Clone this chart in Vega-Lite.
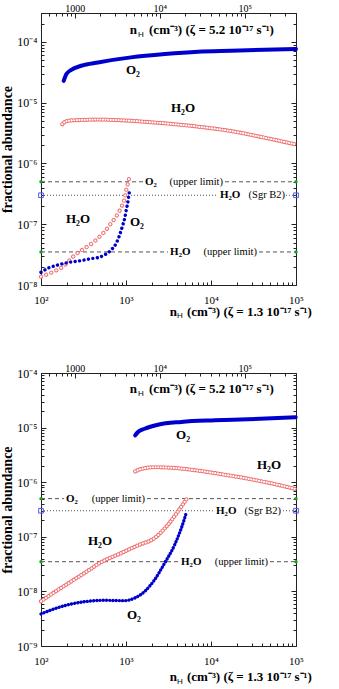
{
  "$schema": "https://vega.github.io/schema/vega-lite/v6.json",
  "padding": {"left": 0, "top": 0, "right": 0, "bottom": 0},
  "background": "white",
  "spacing": 39,
  "config": {
    "view": {"stroke": "#222", "strokeWidth": 1},
    "font": "Liberation Serif",
    "axis": {"domain": false, "grid": false, "tickColor": "#222", "tickWidth": 1, "labelColor": "#000", "labelFont": "Liberation Serif", "labelFlush": false, "labelOverlap": false, "labelBound": false, "titleColor": "#000"}
  },
  "datasets": {
    "topax": [{"xt": 400}, {"xt": 400000}],
    "p1_o2_up": [{"x":185,"y":2.29e-5},{"x":199,"y":2.96e-5},{"x":227,"y":3.48e-5},{"x":298,"y":4.06e-5},{"x":469,"y":4.61e-5},{"x":1145,"y":5.58e-5},{"x":2877,"y":6.34e-5},{"x":7030,"y":6.92e-5},{"x":17180,"y":7.18e-5},{"x":100000,"y":7.66e-5}],
    "p1_h2o_up": [{"x":178,"y":4.42e-6},{"x":190,"y":4.82e-6},{"x":218,"y":5.08e-6},{"x":298,"y":5.2e-6},{"x":469,"y":5.28e-6},{"x":881,"y":5.14e-6},{"x":1815,"y":4.82e-6},{"x":2851,"y":4.58e-6},{"x":7030,"y":4.04e-6},{"x":17180,"y":3.42e-6},{"x":42850,"y":2.66e-6},{"x":99000,"y":2.06e-6}],
    "p1_o2_low": [{"x":100,"y":1.62e-8},{"x":121,"y":1.89e-8},{"x":158,"y":2.14e-8},{"x":208,"y":2.34e-8},{"x":298,"y":2.52e-8},{"x":391,"y":2.72e-8},{"x":469,"y":2.83e-8},{"x":561,"y":3.13e-8},{"x":671,"y":3.79e-8},{"x":769,"y":4.89e-8},{"x":843,"y":6.7e-8},{"x":906,"y":9.2e-8},{"x":966,"y":1.26e-7},{"x":1009,"y":1.74e-7},{"x":1056,"y":2.38e-7},{"x":1084,"y":3.08e-7},{"x":1104,"y":3.62e-7}],
    "p1_h2o_low": [{"x":100,"y":1.37e-8},{"x":111,"y":1.45e-8},{"x":132,"y":1.6e-8},{"x":158,"y":1.8e-8},{"x":190,"y":2.1e-8},{"x":213,"y":2.5e-8},{"x":249,"y":3.1e-8},{"x":290,"y":3.6e-8},{"x":326,"y":4.0e-8},{"x":409,"y":5.0e-8},{"x":469,"y":5.91e-8},{"x":561,"y":7.6e-8},{"x":671,"y":1.05e-7},{"x":769,"y":1.35e-7},{"x":881,"y":1.92e-7},{"x":966,"y":2.71e-7},{"x":1009,"y":3.72e-7},{"x":1056,"y":4.8e-7},{"x":1084,"y":5.58e-7},{"x":1104,"y":6.57e-7}],
    "p2_o2_up": [{"x":1285,"y":7.23e-6},{"x":1384,"y":8.3e-6},{"x":1660,"y":9.54e-6},{"x":2377,"y":1.13e-5},{"x":4480,"y":1.27e-5},{"x":11070,"y":1.36e-5},{"x":27230,"y":1.42e-5},{"x":99200,"y":1.55e-5}],
    "p2_h2o_up": [{"x":1285,"y":1.58e-6},{"x":1514,"y":1.75e-6},{"x":2178,"y":1.88e-6},{"x":3741,"y":1.82e-6},{"x":7030,"y":1.63e-6},{"x":14490,"y":1.37e-6},{"x":27230,"y":1.16e-6},{"x":51170,"y":9.54e-7},{"x":99200,"y":7.5e-7}],
    "p2_h2o_low": [{"x":100,"y":6.6e-9},{"x":145,"y":9.75e-9},{"x":228,"y":1.53e-8},{"x":357,"y":2.39e-8},{"x":490,"y":3.31e-8},{"x":881,"y":5.05e-8},{"x":1384,"y":6.98e-8},{"x":2173,"y":9.51e-8},{"x":3119,"y":1.67e-7},{"x":4090,"y":2.93e-7},{"x":5260,"y":5.14e-7}],
    "p2_o2_low": [{"x":100,"y":3.86e-9},{"x":145,"y":4.82e-9},{"x":228,"y":5.88e-9},{"x":357,"y":6.59e-9},{"x":561,"y":6.87e-9},{"x":966,"y":6.76e-9},{"x":1265,"y":7.57e-9},{"x":1660,"y":1.0e-8},{"x":2173,"y":1.64e-8},{"x":2851,"y":3.31e-8},{"x":3741,"y":7.16e-8},{"x":4480,"y":1.45e-7},{"x":4900,"y":2.21e-7},{"x":5130,"y":2.81e-7}],
    "p1_rules": [{"x":100,"x2":1585,"y":5e-7,"k":"d"},{"x":14620,"x2":100000,"y":5e-7,"k":"d"},{"x":100,"x2":12080,"y":3e-7,"k":"o"},{"x":76200,"x2":100000,"y":3e-7,"k":"o"},{"x":100,"x2":3120,"y":3.5e-8,"k":"d"},{"x":36700,"x2":100000,"y":3.5e-8,"k":"d"}],
    "p2_rules": [{"x":100,"x2":186,"y":5e-7,"k":"d"},{"x":1766,"x2":100000,"y":5e-7,"k":"d"},{"x":100,"x2":10840,"y":3e-7,"k":"o"},{"x":70300,"x2":100000,"y":3e-7,"k":"o"},{"x":100,"x2":4210,"y":3.5e-8,"k":"d"},{"x":49400,"x2":100000,"y":3.5e-8,"k":"d"}],
    "ends": [{"x":100,"y":5e-7,"k":"g"},{"x":100000,"y":5e-7,"k":"g"},{"x":100,"y":3.5e-8,"k":"g"},{"x":100000,"y":3.5e-8,"k":"g"},{"x":100,"y":3e-7,"k":"b"},{"x":100000,"y":3e-7,"k":"b"}],
    "p1_sp": [{"x":1208,"y":3.44e-5,"t":"O₂"},{"x":4690,"y":8.1e-6,"t":"H₂O"},{"x":272,"y":1.23e-7,"t":"H₂O"},{"x":1346,"y":1.1e-7,"t":"O₂"}],
    "p2_sp": [{"x":4690,"y":7.3e-6,"t":"O₂"},{"x":48080,"y":2.07e-6,"t":"H₂O"},{"x":494,"y":8.4e-8,"t":"H₂O"},{"x":1242,"y":3.7e-9,"t":"O₂"}],
    "p1_ll": [{"x":1675,"y":5e-7,"t":"O₂","p":"s"},{"x":12760,"y":3e-7,"t":"H₂O","p":"s"},{"x":3300,"y":3.5e-8,"t":"H₂O","p":"s"},{"x":13840,"y":5e-7,"t":"(upper  limit)","p":"d"},{"x":74300,"y":3e-7,"t":"(Sgr  B2)","p":"d"},{"x":34750,"y":3.5e-8,"t":"(upper  limit)","p":"d"}],
    "p2_ll": [{"x":197,"y":5e-7,"t":"O₂","p":"s"},{"x":11460,"y":3e-7,"t":"H₂O","p":"s"},{"x":4440,"y":3.5e-8,"t":"H₂O","p":"s"},{"x":1675,"y":5e-7,"t":"(upper  limit)","p":"d"},{"x":66630,"y":3e-7,"t":"(Sgr  B2)","p":"d"},{"x":46900,"y":3.5e-8,"t":"(upper  limit)","p":"d"}],
    "p1_tt": [{"x":1107,"y":1.35e-4,"t":"n","p":"n"},{"x":1384,"y":1.21e-4,"t":"H","p":"h"},{"x":1866,"y":1.35e-4,"t":"(cm⁻³)  (ζ  =  5.2  10⁻¹⁷  s⁻¹)","p":"r"},{"x":3266,"y":3.07e-9,"t":"n","p":"n"},{"x":3981,"y":2.85e-9,"t":"H","p":"h"},{"x":5220,"y":3.07e-9,"t":"(cm⁻³)  (ζ  =  1.3  10⁻¹⁷  s⁻¹)","p":"r"}],
    "p2_tt": [{"x":1107,"y":4.3e-5,"t":"n","p":"n"},{"x":1384,"y":3.79e-5,"t":"H","p":"h"},{"x":1866,"y":4.3e-5,"t":"(cm⁻³)  (ζ  =  5.2  10⁻¹⁷  s⁻¹)","p":"r"},{"x":3266,"y":2.29e-10,"t":"n","p":"n"},{"x":3981,"y":2.01e-10,"t":"H","p":"h"},{"x":5220,"y":2.29e-10,"t":"(cm⁻³)  (ζ  =  1.3  10⁻¹⁷  s⁻¹)","p":"r"}]
  },
  "vconcat": [
    {
      "width": 255, "height": 272,
      "resolve": {"scale": {"x": "independent"}, "axis": {"x": "independent", "y": "independent"}},
      "layer": [
        {
          "encoding": {
            "x": {"field": "x", "type": "quantitative", "scale": {"type": "log", "domain": [100, 100000], "nice": false},
              "axis": {"orient": "bottom", "title": null, "values": [100,200,300,400,500,600,700,800,900,1000,2000,3000,4000,5000,6000,7000,8000,9000,10000,20000,30000,40000,50000,60000,70000,80000,90000,100000],
                "labelExpr": "abs(log(datum.value)/LN10 - round(log(datum.value)/LN10)) < 0.01 ? '10' + (datum.value < 1 ? '⁻' : '') + ['⁰','¹','²','³','⁴','⁵','⁶','⁷','⁸','⁹'][abs(round(log(datum.value)/LN10))] : ''",
                "tickSize": {"condition": {"test": "abs(log(datum.value)/LN10 - round(log(datum.value)/LN10)) < 0.01", "value": -5}, "value": -3},
                "labelFontSize": 11, "labelPadding": 14}},
            "y": {"field": "y", "type": "quantitative", "scale": {"type": "log", "domain": [1e-8, 3e-4], "nice": false},
              "axis": {"orient": "left", "title": "fractional abundance", "titleFontSize": 14, "titleFontWeight": "bold", "titleFont": "Liberation Serif", "titlePadding": 2,
                "values": [1e-8,2e-8,3e-8,4e-8,5e-8,6e-8,7e-8,8e-8,9e-8,1e-7,2e-7,3e-7,4e-7,5e-7,6e-7,7e-7,8e-7,9e-7,1e-6,2e-6,3e-6,4e-6,5e-6,6e-6,7e-6,8e-6,9e-6,1e-5,2e-5,3e-5,4e-5,5e-5,6e-5,7e-5,8e-5,9e-5,1e-4,2e-4,3e-4],
                "labelExpr": "abs(log(datum.value)/LN10 - round(log(datum.value)/LN10)) < 0.01 ? '10' + (datum.value < 1 ? '⁻' : '') + ['⁰','¹','²','³','⁴','⁵','⁶','⁷','⁸','⁹'][abs(round(log(datum.value)/LN10))] : ''",
                "tickSize": {"condition": {"test": "abs(log(datum.value)/LN10 - round(log(datum.value)/LN10)) < 0.01", "value": -5}, "value": -3},
                "labelFontSize": 12, "labelPadding": 9}}
          },
          "layer": [
            {"data": {"name": "p1_rules"}, "transform": [{"filter": "datum.k == 'd'"}], "mark": {"type": "rule", "color": "#555", "strokeDash": [4, 3], "strokeWidth": 1}, "encoding": {"x2": {"field": "x2"}}},
            {"data": {"name": "p1_rules"}, "transform": [{"filter": "datum.k == 'o'"}], "mark": {"type": "rule", "color": "#555", "strokeDash": [1, 2], "strokeWidth": 1}, "encoding": {"x2": {"field": "x2"}}},
            {"data": {"name": "p1_h2o_up"}, "mark": {"type": "line", "color": "#ee6f6f", "strokeWidth": 4.2, "strokeDash": [0.01, 2.6], "strokeCap": "round", "interpolate": "monotone"}},
            {"data": {"name": "p1_h2o_up"}, "mark": {"type": "line", "color": "white", "strokeWidth": 2.2, "strokeDash": [0.01, 2.6], "strokeCap": "round", "interpolate": "monotone"}},
            {"data": {"name": "p1_h2o_low"}, "mark": {"type": "line", "color": "#ee6f6f", "strokeWidth": 4.2, "strokeDash": [0.01, 5.5], "strokeCap": "round", "interpolate": "monotone"}},
            {"data": {"name": "p1_h2o_low"}, "mark": {"type": "line", "color": "white", "strokeWidth": 2.2, "strokeDash": [0.01, 5.5], "strokeCap": "round", "interpolate": "monotone"}},
            {"data": {"name": "p1_o2_up"}, "mark": {"type": "line", "color": "#0000cc", "strokeWidth": 4, "strokeCap": "round", "interpolate": "monotone"}},
            {"data": {"name": "p1_o2_low"}, "mark": {"type": "line", "color": "#0000cc", "strokeWidth": 3.4, "strokeDash": [0.01, 4.5], "strokeCap": "round", "interpolate": "monotone"}},
            {"data": {"name": "p1_sp"}, "mark": {"type": "text", "font": "Liberation Serif", "fontWeight": "bold", "fontSize": 13, "align": "center", "baseline": "middle", "color": "#000"}, "encoding": {"text": {"field": "t"}}},
            {"data": {"name": "p1_ll"}, "transform": [{"filter": "datum.p == 's'"}], "mark": {"type": "text", "font": "Liberation Serif", "fontWeight": "bold", "fontSize": 11, "align": "left", "baseline": "middle", "color": "#000"}, "encoding": {"text": {"field": "t"}}},
            {"data": {"name": "p1_ll"}, "transform": [{"filter": "datum.p == 'd'"}], "mark": {"type": "text", "font": "Liberation Serif", "fontSize": 10.5, "align": "right", "baseline": "middle", "color": "#000"}, "encoding": {"text": {"field": "t"}}},
            {"data": {"name": "p1_tt"}, "transform": [{"filter": "datum.p == 'n'"}], "mark": {"type": "text", "font": "Liberation Serif", "fontWeight": "bold", "fontSize": 13, "align": "left", "baseline": "alphabetic", "color": "#000"}, "encoding": {"text": {"field": "t"}}},
            {"data": {"name": "p1_tt"}, "transform": [{"filter": "datum.p == 'h'"}], "mark": {"type": "text", "font": "Liberation Sans", "fontSize": 8, "align": "left", "baseline": "alphabetic", "color": "#000"}, "encoding": {"text": {"field": "t"}}},
            {"data": {"name": "p1_tt"}, "transform": [{"filter": "datum.p == 'r'"}], "mark": {"type": "text", "font": "Liberation Serif", "fontWeight": "bold", "fontSize": 13, "align": "left", "baseline": "alphabetic", "color": "#000"}, "encoding": {"text": {"field": "t"}}},
            {"data": {"name": "ends"}, "transform": [{"filter": "datum.k == 'g'"}], "mark": {"type": "point", "shape": "circle", "filled": true, "color": "#1a9e1a", "size": 12, "opacity": 1}},
            {"data": {"name": "ends"}, "transform": [{"filter": "datum.k == 'b'"}], "mark": {"type": "point", "shape": "square", "filled": false, "color": "#5555ee", "size": 22, "strokeWidth": 1, "opacity": 1}}
          ]
        },
        {
          "data": {"name": "topax"},
          "mark": {"type": "point", "opacity": 0},
          "encoding": {
            "x": {"field": "xt", "type": "quantitative", "scale": {"type": "log", "domain": [400, 400000], "nice": false},
              "axis": {"orient": "top", "title": null, "values": [400,500,600,700,800,900,1000,2000,3000,4000,5000,6000,7000,8000,9000,10000,20000,30000,40000,50000,60000,70000,80000,90000,100000,200000,300000,400000],
                "labelExpr": "datum.value == 1000 ? '1000' : datum.value == 10000 ? '10⁴' : datum.value == 100000 ? '10⁵' : ''",
                "tickSize": {"condition": {"test": "abs(log(datum.value)/LN10 - round(log(datum.value)/LN10)) < 0.01", "value": -5}, "value": -3},
                "labelFontSize": 10, "labelPadding": 5}}
          }
        },
        {
          "data": {"name": "topax"},
          "mark": {"type": "point", "opacity": 0},
          "encoding": {
            "y": {"field": "yr", "type": "quantitative", "scale": {"type": "log", "domain": [1e-8, 3e-4], "nice": false},
              "axis": {"orient": "right", "title": null, "labels": false,
                "values": [1e-8,2e-8,3e-8,4e-8,5e-8,6e-8,7e-8,8e-8,9e-8,1e-7,2e-7,3e-7,4e-7,5e-7,6e-7,7e-7,8e-7,9e-7,1e-6,2e-6,3e-6,4e-6,5e-6,6e-6,7e-6,8e-6,9e-6,1e-5,2e-5,3e-5,4e-5,5e-5,6e-5,7e-5,8e-5,9e-5,1e-4,2e-4,3e-4],
                "tickSize": {"condition": {"test": "abs(log(datum.value)/LN10 - round(log(datum.value)/LN10)) < 0.01", "value": -5}, "value": -3}}}
          }
        }
      ]
    },
    {
      "width": 255, "height": 273,
      "resolve": {"scale": {"x": "independent"}, "axis": {"x": "independent", "y": "independent"}},
      "layer": [
        {
          "encoding": {
            "x": {"field": "x", "type": "quantitative", "scale": {"type": "log", "domain": [100, 100000], "nice": false},
              "axis": {"orient": "bottom", "title": null, "values": [100,200,300,400,500,600,700,800,900,1000,2000,3000,4000,5000,6000,7000,8000,9000,10000,20000,30000,40000,50000,60000,70000,80000,90000,100000],
                "labelExpr": "abs(log(datum.value)/LN10 - round(log(datum.value)/LN10)) < 0.01 ? '10' + (datum.value < 1 ? '⁻' : '') + ['⁰','¹','²','³','⁴','⁵','⁶','⁷','⁸','⁹'][abs(round(log(datum.value)/LN10))] : ''",
                "tickSize": {"condition": {"test": "abs(log(datum.value)/LN10 - round(log(datum.value)/LN10)) < 0.01", "value": -5}, "value": -3},
                "labelFontSize": 11, "labelPadding": 14}},
            "y": {"field": "y", "type": "quantitative", "scale": {"type": "log", "domain": [1e-9, 1e-4], "nice": false},
              "axis": {"orient": "left", "title": "fractional abundance", "titleFontSize": 14, "titleFontWeight": "bold", "titleFont": "Liberation Serif", "titlePadding": 2,
                "values": [1e-9,2e-9,3e-9,4e-9,5e-9,6e-9,7e-9,8e-9,9e-9,1e-8,2e-8,3e-8,4e-8,5e-8,6e-8,7e-8,8e-8,9e-8,1e-7,2e-7,3e-7,4e-7,5e-7,6e-7,7e-7,8e-7,9e-7,1e-6,2e-6,3e-6,4e-6,5e-6,6e-6,7e-6,8e-6,9e-6,1e-5,2e-5,3e-5,4e-5,5e-5,6e-5,7e-5,8e-5,9e-5,1e-4],
                "labelExpr": "abs(log(datum.value)/LN10 - round(log(datum.value)/LN10)) < 0.01 ? '10' + (datum.value < 1 ? '⁻' : '') + ['⁰','¹','²','³','⁴','⁵','⁶','⁷','⁸','⁹'][abs(round(log(datum.value)/LN10))] : ''",
                "tickSize": {"condition": {"test": "abs(log(datum.value)/LN10 - round(log(datum.value)/LN10)) < 0.01", "value": -5}, "value": -3},
                "labelFontSize": 12, "labelPadding": 9}}
          },
          "layer": [
            {"data": {"name": "p2_rules"}, "transform": [{"filter": "datum.k == 'd'"}], "mark": {"type": "rule", "color": "#555", "strokeDash": [4, 3], "strokeWidth": 1}, "encoding": {"x2": {"field": "x2"}}},
            {"data": {"name": "p2_rules"}, "transform": [{"filter": "datum.k == 'o'"}], "mark": {"type": "rule", "color": "#555", "strokeDash": [1, 2], "strokeWidth": 1}, "encoding": {"x2": {"field": "x2"}}},
            {"data": {"name": "p2_h2o_up"}, "mark": {"type": "line", "color": "#ee6f6f", "strokeWidth": 4.2, "strokeDash": [0.01, 2.6], "strokeCap": "round", "interpolate": "monotone"}},
            {"data": {"name": "p2_h2o_up"}, "mark": {"type": "line", "color": "white", "strokeWidth": 2.2, "strokeDash": [0.01, 2.6], "strokeCap": "round", "interpolate": "monotone"}},
            {"data": {"name": "p2_h2o_low"}, "mark": {"type": "line", "color": "#ee6f6f", "strokeWidth": 4.2, "strokeDash": [0.01, 3], "strokeCap": "round", "interpolate": "monotone"}},
            {"data": {"name": "p2_h2o_low"}, "mark": {"type": "line", "color": "white", "strokeWidth": 2.2, "strokeDash": [0.01, 3], "strokeCap": "round", "interpolate": "monotone"}},
            {"data": {"name": "p2_o2_up"}, "mark": {"type": "line", "color": "#0000cc", "strokeWidth": 4, "strokeCap": "round", "interpolate": "monotone"}},
            {"data": {"name": "p2_o2_low"}, "mark": {"type": "line", "color": "#0000cc", "strokeWidth": 3.4, "strokeDash": [0.01, 3.2], "strokeCap": "round", "interpolate": "monotone"}},
            {"data": {"name": "p2_sp"}, "mark": {"type": "text", "font": "Liberation Serif", "fontWeight": "bold", "fontSize": 13, "align": "center", "baseline": "middle", "color": "#000"}, "encoding": {"text": {"field": "t"}}},
            {"data": {"name": "p2_ll"}, "transform": [{"filter": "datum.p == 's'"}], "mark": {"type": "text", "font": "Liberation Serif", "fontWeight": "bold", "fontSize": 11, "align": "left", "baseline": "middle", "color": "#000"}, "encoding": {"text": {"field": "t"}}},
            {"data": {"name": "p2_ll"}, "transform": [{"filter": "datum.p == 'd'"}], "mark": {"type": "text", "font": "Liberation Serif", "fontSize": 10.5, "align": "right", "baseline": "middle", "color": "#000"}, "encoding": {"text": {"field": "t"}}},
            {"data": {"name": "p2_tt"}, "transform": [{"filter": "datum.p == 'n'"}], "mark": {"type": "text", "font": "Liberation Serif", "fontWeight": "bold", "fontSize": 13, "align": "left", "baseline": "alphabetic", "color": "#000"}, "encoding": {"text": {"field": "t"}}},
            {"data": {"name": "p2_tt"}, "transform": [{"filter": "datum.p == 'h'"}], "mark": {"type": "text", "font": "Liberation Sans", "fontSize": 8, "align": "left", "baseline": "alphabetic", "color": "#000"}, "encoding": {"text": {"field": "t"}}},
            {"data": {"name": "p2_tt"}, "transform": [{"filter": "datum.p == 'r'"}], "mark": {"type": "text", "font": "Liberation Serif", "fontWeight": "bold", "fontSize": 13, "align": "left", "baseline": "alphabetic", "color": "#000"}, "encoding": {"text": {"field": "t"}}},
            {"data": {"name": "ends"}, "transform": [{"filter": "datum.k == 'g'"}], "mark": {"type": "point", "shape": "circle", "filled": true, "color": "#1a9e1a", "size": 12, "opacity": 1}},
            {"data": {"name": "ends"}, "transform": [{"filter": "datum.k == 'b'"}], "mark": {"type": "point", "shape": "square", "filled": false, "color": "#5555ee", "size": 22, "strokeWidth": 1, "opacity": 1}}
          ]
        },
        {
          "data": {"name": "topax"},
          "mark": {"type": "point", "opacity": 0},
          "encoding": {
            "x": {"field": "xt", "type": "quantitative", "scale": {"type": "log", "domain": [400, 400000], "nice": false},
              "axis": {"orient": "top", "title": null, "values": [400,500,600,700,800,900,1000,2000,3000,4000,5000,6000,7000,8000,9000,10000,20000,30000,40000,50000,60000,70000,80000,90000,100000,200000,300000,400000],
                "labelExpr": "datum.value == 1000 ? '1000' : datum.value == 10000 ? '10⁴' : datum.value == 100000 ? '10⁵' : ''",
                "tickSize": {"condition": {"test": "abs(log(datum.value)/LN10 - round(log(datum.value)/LN10)) < 0.01", "value": -5}, "value": -3},
                "labelFontSize": 10, "labelPadding": 5}}
          }
        },
        {
          "data": {"name": "topax"},
          "mark": {"type": "point", "opacity": 0},
          "encoding": {
            "y": {"field": "yr", "type": "quantitative", "scale": {"type": "log", "domain": [1e-9, 1e-4], "nice": false},
              "axis": {"orient": "right", "title": null, "labels": false,
                "values": [1e-9,2e-9,3e-9,4e-9,5e-9,6e-9,7e-9,8e-9,9e-9,1e-8,2e-8,3e-8,4e-8,5e-8,6e-8,7e-8,8e-8,9e-8,1e-7,2e-7,3e-7,4e-7,5e-7,6e-7,7e-7,8e-7,9e-7,1e-6,2e-6,3e-6,4e-6,5e-6,6e-6,7e-6,8e-6,9e-6,1e-5,2e-5,3e-5,4e-5,5e-5,6e-5,7e-5,8e-5,9e-5,1e-4],
                "tickSize": {"condition": {"test": "abs(log(datum.value)/LN10 - round(log(datum.value)/LN10)) < 0.01", "value": -5}, "value": -3}}}
          }
        }
      ]
    }
  ]
}
